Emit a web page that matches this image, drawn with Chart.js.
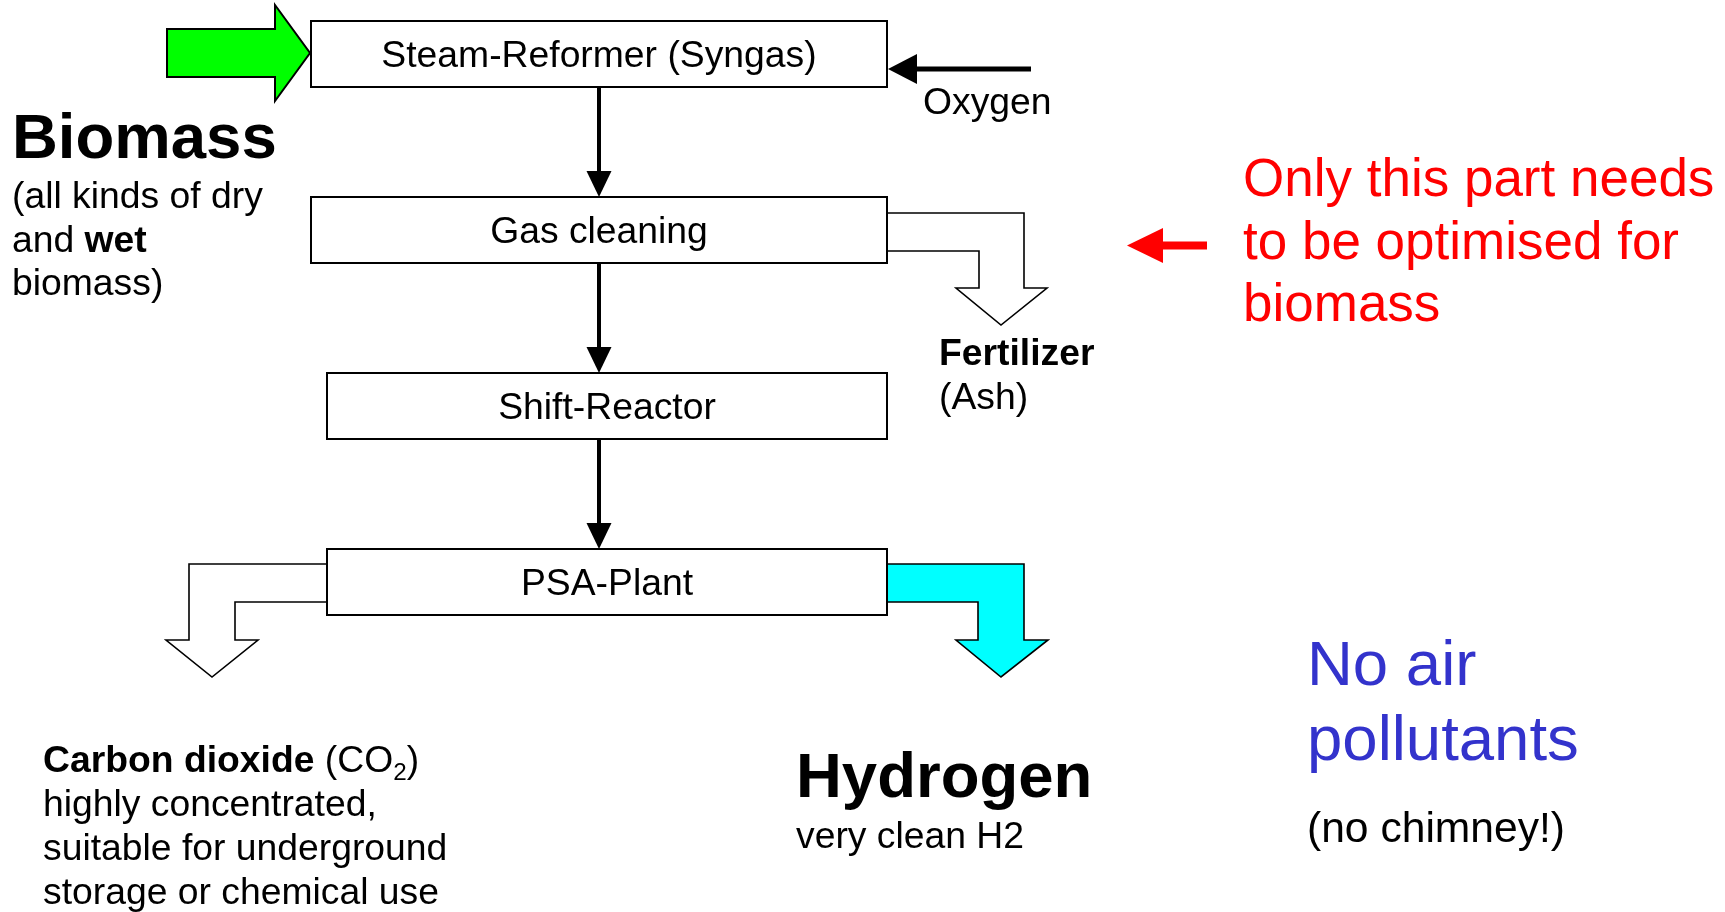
<!DOCTYPE html>
<html>
<head>
<meta charset="utf-8">
<script src="https://cdn.jsdelivr.net/npm/chart.js@4"></script>
<style>
  html, body { margin: 0; padding: 0; background: #fff; }
  #wrap { width: 1725px; height: 912px; }
</style>
</head>
<body>
<div id="wrap"><canvas id="flowChart" width="1725" height="912"></canvas></div>
<script>
// process stages, top to bottom
const stageLabels = ['Steam-Reformer (Syngas)', 'Gas cleaning', 'Shift-Reactor', 'PSA-Plant'];

// side texts
const biomassTitle = 'Biomass';
const biomassNote = [
    [{ t: '(all kinds of dry' }],
    [{ t: 'and ' }, { t: 'wet', b: true }],
    [{ t: 'biomass)' }]
];
const oxygenLabel = 'Oxygen';
const fertilizerLabel = ['Fertilizer', '(Ash)'];
const optimiseNote = ['Only this part needs', 'to be optimised for', 'biomass'];
const co2Note = [
    [{ t: 'Carbon dioxide', b: true }, { t: ' (CO' }, { t: '2', sub: true }, { t: ')' }],
    [{ t: 'highly concentrated,' }],
    [{ t: 'suitable for underground' }],
    [{ t: 'storage or chemical use' }]
];
const hydrogenTitle = 'Hydrogen';
const hydrogenNote = 'very clean H2';
const airNote = ['No air', 'pollutants'];
const chimneyNote = '(no chimney!)';

// layout (diagram units = pixels of the 1725x912 sheet)
const boxLeft = [311, 311, 327, 327];
const boxRight = 887;
const boxTop = [21, 197, 373, 549];
const boxH = 66;
const flowX = 599;

const FONT = '"Liberation Sans", Arial, Helvetica, sans-serif';
const BODY = 37.3;
const BIG = 63.5;

const diagramPlugin = {
    id: 'diagram',
    beforeDraw(chart) {
        const c = chart.ctx;
        c.save();
        c.fillStyle = '#fff';
        c.fillRect(0, 0, chart.width, chart.height);
        c.restore();
    },
    afterDraw(chart) {
        const c = chart.ctx;
        const sx = chart.scales.x, sy = chart.scales.y;
        const X = v => sx.getPixelForValue(v);
        const Y = v => sy.getPixelForValue(v);

        const poly = (pts, fill, lw) => {
            c.beginPath();
            pts.forEach((p, i) => i ? c.lineTo(X(p[0]), Y(p[1])) : c.moveTo(X(p[0]), Y(p[1])));
            c.closePath();
            c.fillStyle = fill;
            c.fill();
            if (lw) {
                c.lineWidth = lw;
                c.strokeStyle = '#000';
                c.lineJoin = 'miter';
                c.stroke();
            }
        };
        const text = (s, x, y, size, opts = {}) => {
            c.font = (opts.bold ? 'bold ' : '') + size + 'px ' + FONT;
            c.fillStyle = opts.color || '#000';
            c.textAlign = opts.align || 'left';
            c.textBaseline = opts.base || 'alphabetic';
            c.fillText(s, X(x), Y(y));
        };
        const rich = (runs, x, y, size) => {
            let px = X(x);
            c.textAlign = 'left';
            c.textBaseline = 'alphabetic';
            c.fillStyle = '#000';
            runs.forEach(r => {
                const sz = r.sub ? size * 0.65 : size;
                c.font = (r.b ? 'bold ' : '') + sz + 'px ' + FONT;
                c.fillText(r.t, px, Y(y) + (r.sub ? size * 0.22 : 0));
                px += c.measureText(r.t).width;
            });
        };

        c.save();

        // green input arrow
        poly([[167, 29], [275, 29], [275, 5], [310, 53], [275, 101], [275, 77], [167, 77]], '#00ff00', 2);

        // hollow / cyan bent arrows
        poly([[887, 213], [1024, 213], [1024, 288], [1047, 288], [1001, 325], [956, 288], [979, 288], [979, 251], [887, 251]], '#fff', 1.6);
        poly([[327, 564], [189, 564], [189, 640], [166, 640], [212, 677], [258, 640], [235, 640], [235, 602], [327, 602]], '#fff', 1.6);
        poly([[887, 564], [1024, 564], [1024, 640], [1048, 640], [1001, 677], [956, 640], [978, 640], [978, 602], [887, 602]], '#00ffff', 1.6);

        // stage boxes and labels
        stageLabels.forEach((lab, i) => {
            c.fillStyle = '#fff';
            c.fillRect(X(boxLeft[i]), Y(boxTop[i]), X(boxRight) - X(boxLeft[i]), Y(boxTop[i] + boxH) - Y(boxTop[i]));
            c.lineWidth = 2;
            c.strokeStyle = '#000';
            c.strokeRect(X(boxLeft[i]), Y(boxTop[i]), X(boxRight) - X(boxLeft[i]), Y(boxTop[i] + boxH) - Y(boxTop[i]));
            text(lab, (boxLeft[i] + boxRight) / 2, boxTop[i] + boxH / 2 + 3, BODY, { align: 'center', base: 'middle' });
        });

        // flow arrows between stages
        for (let i = 0; i < stageLabels.length - 1; i++) {
            const y0 = boxTop[i] + boxH, y1 = boxTop[i + 1];
            c.beginPath();
            c.moveTo(X(flowX), Y(y0));
            c.lineTo(X(flowX), Y(y1 - 24));
            c.lineWidth = 4;
            c.strokeStyle = '#000';
            c.stroke();
            poly([[flowX - 12.5, y1 - 26], [flowX + 12.5, y1 - 26], [flowX, y1]], '#000', 0);
        }

        // oxygen arrow
        c.beginPath();
        c.moveTo(X(1031), Y(69));
        c.lineTo(X(914), Y(69));
        c.lineWidth = 5;
        c.strokeStyle = '#000';
        c.stroke();
        poly([[888, 69], [917, 54], [917, 84]], '#000', 0);

        // red pointer arrow
        c.beginPath();
        c.moveTo(X(1207), Y(245.5));
        c.lineTo(X(1158), Y(245.5));
        c.lineWidth = 8;
        c.strokeStyle = '#ff0000';
        c.stroke();
        poly([[1127, 245.5], [1163, 228], [1163, 263]], '#ff0000', 0);

        // texts
        text(biomassTitle, 12, 158, BIG, { bold: true });
        biomassNote.forEach((runs, i) => rich(runs, 12, 208 + i * 43.5, BODY));

        text(oxygenLabel, 923, 114, BODY);

        optimiseNote.forEach((s, i) => text(s, 1243, 196 + i * 62.5, 53, { color: '#ff0000' }));

        text(fertilizerLabel[0], 939, 365, BODY, { bold: true });
        text(fertilizerLabel[1], 939, 409, BODY);

        co2Note.forEach((runs, i) => rich(runs, 43, 772 + i * 44, BODY));

        text(hydrogenTitle, 796, 797, BIG, { bold: true });
        text(hydrogenNote, 796, 848, BODY);

        airNote.forEach((s, i) => text(s, 1307, 685 + i * 74.5, BIG, { color: '#3333cc' }));
        text(chimneyNote, 1307, 842, 42.6);

        c.restore();
    }
};

new Chart(document.getElementById('flowChart'), {
    type: 'scatter',
    data: {
        datasets: [{
            label: 'stages',
            data: stageLabels.map((s, i) => ({ x: flowX, y: boxTop[i] + boxH / 2 })),
            pointRadius: 0,
            showLine: false
        }]
    },
    options: {
        responsive: false,
        animation: false,
        layout: { padding: 0 },
        plugins: {
            legend: { display: false },
            tooltip: { enabled: false },
            title: { display: false }
        },
        scales: {
            x: { type: 'linear', min: 0, max: 1725, display: false },
            y: { type: 'linear', min: 0, max: 912, reverse: true, display: false }
        }
    },
    plugins: [diagramPlugin]
});
</script>
</body>
</html>
